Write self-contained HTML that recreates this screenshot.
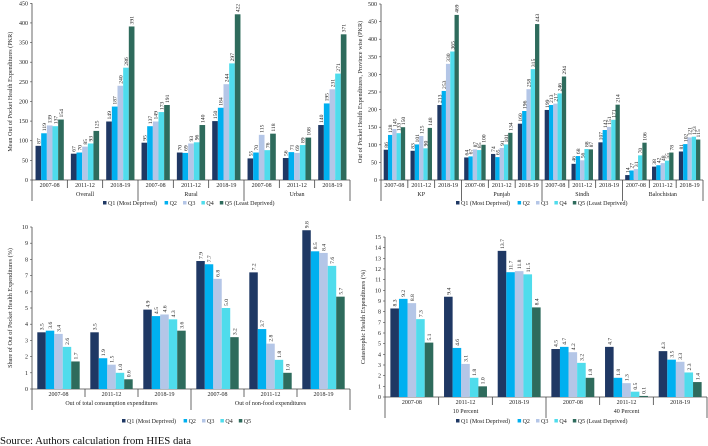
<!DOCTYPE html>
<html><head><meta charset="utf-8">
<style>
html,body{margin:0;padding:0;background:#fff;}
svg{display:block;font-family:"Liberation Serif",serif;}
</style></head>
<body>
<svg id="chart" width="708" height="446" viewBox="0 0 708 446"></svg>
<script>
const seriesNames = ["Q1 (Most Deprived)","Q2","Q3","Q4","Q5 (Least Deprived)"];
const seriesNamesShort = ["Q1 (Most Deprived)","Q2","Q3","Q4","Q5"];
const colors = ["#1f3864","#00b0f0","#b4c6e7","#4fdcec","#2e6b5c"];
const years = ["2007-08","2011-12","2018-19"];

const p1Groups = ["Overall","Rural","Urban"];
const p1Q1 = [87,67,149, 95,70,150, 55,56,140];
const p1Q2 = [119,70,187, 137,69,184, 70,71,195];
const p1Q3 = [139,85,240, 149,93,244, 115,69,231];
const p1Q4 = [137,93,286, 173,96,297, 76,89,271];
const p1Q5 = [154,125,391, 191,140,422, 118,108,371];
const p1Ticks = [0,50,100,150,200,250,300,350,400,450];

const p2Groups = ["KP","Punjab","Sindh","Balochistan"];
const p2Q1 = [86,83,213, 64,74,160, 199,46,107, 14,38,81];
const p2Q2 = [128,101,253, 67,65,196, 213,68,142, 27,42,102];
const p2Q3 = [145,125,330, 87,91,258, 217,56,151, 31,48,121];
const p2Q4 = [133,90,365, 85,101,315, 246,88,171, 70,55,123];
const p2Q5 = [150,148,469, 100,134,443, 294,87,214, 106,78,115];
const p2Ticks = [0,50,100,150,200,250,300,350,400,450,500];

const p3Groups = ["Out of total consumption expenditures","Out of non-food expenditures"];
const p3Q1 = [3.5,3.5,4.9, 7.9,7.2,9.8];
const p3Q2 = [3.6,1.9,4.5, 7.7,3.7,8.5];
const p3Q3 = [3.4,1.5,4.6, 6.8,2.8,8.4];
const p3Q4 = [2.6,1.0,4.3, 5.0,1.8,7.6];
const p3Q5 = [1.7,0.6,3.6, 3.2,1.0,5.7];
const p3Ticks = [0,1,2,3,4,5,6,7,8,9,10];

const p4Groups = ["10 Percent","40 Percent"];
const p4Q1 = [8.3,9.4,13.7, 4.5,4.7,4.3];
const p4Q2 = [9.2,4.6,11.7, 4.7,1.8,3.5];
const p4Q3 = [8.8,3.1,11.8, 4.2,1.3,3.3];
const p4Q4 = [7.3,1.8,11.5, 3.2,0.5,2.3];
const p4Q5 = [5.1,1.0,8.4, 1.8,0.1,1.4];
const p4Ticks = [0,1,2,3,4,5,6,7,8,9,10,11,12,13,14,15];

const NS="http://www.w3.org/2000/svg";
const svg=document.getElementById('chart');
function mk(tag,attrs,parent){const e=document.createElementNS(NS,tag);for(const k in attrs)e.setAttribute(k,attrs[k]);(parent||svg).appendChild(e);return e;}

function panel(cfg){
  const g=mk('g',{});
  
  
  const {x0,x1,yTop,yBot,max,ticks,series,groups,legend,legendY,ytitle,dec}=cfg;
  const yS=v=>yBot-(v/max)*(yBot-yTop);
  const nCat=groups.length*years.length;
  const cw=(x1-x0)/nCat;
  const ax=mk('line',{x1:x0,y1:yTop,x2:x0,y2:cfg.sepBot,stroke:'#444','stroke-width':0.8},g);
  
  ticks.forEach(t=>{
    const y=yS(t);
    mk('line',{x1:x0-2,y1:y,x2:x0,y2:y,stroke:'#444','stroke-width':0.6},g);
    const tx=mk('text',{x:x0-4,y:y+2,'font-size':6,'text-anchor':'end',fill:'#222'},g);
    tx.textContent=t;
    
  });
  const yt=mk('text',{x:0,y:0,'font-size':6.2,'text-anchor':'middle',fill:'#222',transform:`translate(${cfg.ytx},${(yTop+yBot)/2}) rotate(-90)`},g);
  yt.textContent=ytitle;
  const xa=mk('line',{x1:x0,y1:yBot,x2:x1,y2:yBot,stroke:'#444','stroke-width':0.8},g);
  
  const bw=cw*0.8/5, off=cw*0.1;
  for(let c=0;c<nCat;c++){
    const cx=x0+c*cw;
    if(c>0){const isG=c%3===0;mk('line',{x1:cx,y1:yBot,x2:cx,y2:isG?cfg.sepBot:yBot+8,stroke:'#444','stroke-width':0.8},g);}
    const cl=mk('text',{x:cx+cw/2,y:yBot+7,'font-size':6,'text-anchor':'middle',fill:'#222'},g);
    cl.textContent=years[c%3];
    for(let s=0;s<5;s++){
      const v=series[s][c];
      const bx=cx+off+s*bw, by=yS(v);
      const r=mk('rect',{x:bx,y:by,width:bw,height:yBot-by,fill:colors[s]},g);
      
      const lt=mk('text',{x:0,y:0,'font-size':5.6,'text-anchor':'start',fill:'#222',transform:`translate(${bx+bw/2+2},${by-2}) rotate(-90)`},g);
      lt.textContent=dec?v.toFixed(1):v;
      
    }
  }
  mk('line',{x1:x1,y1:yBot,x2:x1,y2:cfg.sepBot,stroke:'#444','stroke-width':0.8},g);
  groups.forEach((gn,i)=>{
    const t=mk('text',{x:x0+(i*3+1.5)*cw,y:yBot+16,'font-size':6,'text-anchor':'middle',fill:'#222'},g);
    t.textContent=gn;
  });
  const lg=mk('g',{},g);
  
  let lx=cfg.legendX;
  legend.forEach((n,i)=>{
    const e=mk('g',{},lg);
    
    mk('rect',{x:lx,y:legendY-4,width:3.5,height:3.5,fill:colors[i]},e);
    const t=mk('text',{x:lx+5,y:legendY,'font-size':6,fill:'#222'},e);
    t.textContent=n;
    lx+=5+n.length*2.7+8;
  });
}

panel({name:'panel-mean-oop-by-region',x0:32,x1:350,yTop:3.3,yBot:180,max:450,ticks:p1Ticks,
  series:[p1Q1,p1Q2,p1Q3,p1Q4,p1Q5],groups:p1Groups,legend:seriesNames,legendX:103,legendY:205,
  sepBot:201,ytx:12,ytitle:'Mean Out of Pocket Health Expenditures (PKR)'});
panel({name:'panel-oop-by-province',x0:381,x1:703,yTop:4,yBot:180,max:500,ticks:p2Ticks,
  series:[p2Q1,p2Q2,p2Q3,p2Q4,p2Q5],groups:p2Groups,legend:seriesNames,legendX:456,legendY:205,
  sepBot:201,ytx:362,ytitle:'Out of Pocket Health Expenditures, Province wise (PKR)'});
panel({name:'panel-share-oop',x0:32,x1:350,yTop:227,yBot:389,max:10,ticks:p3Ticks,dec:true,
  series:[p3Q1,p3Q2,p3Q3,p3Q4,p3Q5],groups:p3Groups,legend:seriesNamesShort,legendX:122,legendY:423,
  sepBot:410,ytx:12,ytitle:'Share of Out of Pocket Health Expenditures (%)'});
panel({name:'panel-catastrophic',x0:385,x1:707,yTop:237,yBot:397,max:15,ticks:p4Ticks,dec:true,
  series:[p4Q1,p4Q2,p4Q3,p4Q4,p4Q5],groups:p4Groups,legend:seriesNames,legendX:456,legendY:423,
  sepBot:418,ytx:365,ytitle:'Catastrophic Health Expenditures (%)'});

const src=mk('text',{x:0,y:444,'font-size':10.8,fill:'#111'});
src.textContent='Source: Authors calculation from HIES data';


</script>
</body></html>
